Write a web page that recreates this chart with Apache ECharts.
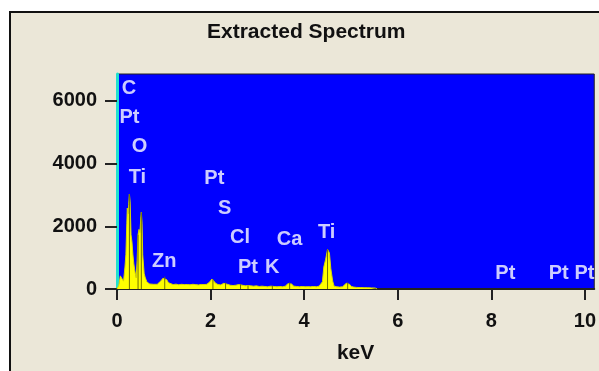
<!DOCTYPE html>
<html>
<head>
<meta charset="utf-8">
<script src="https://cdn.jsdelivr.net/npm/echarts@6/dist/echarts.min.js"></script>
<style>
html,body{margin:0;padding:0;background:#ffffff;}
#chart{width:599px;height:371px;}
</style>
</head>
<body>
<div id="chart"></div>
<script>
// Spectrum (keV, counts)
var energy = [0.00,0.04,0.07,0.09,0.11,0.14,0.17,0.19,0.21,0.22,0.24,0.25,0.265,0.28,0.30,0.32,0.34,0.36,0.38,0.40,0.41,0.43,0.45,0.47,0.49,0.51,0.52,0.535,0.55,0.57,0.58,0.60,0.62,0.64,0.66,0.70,0.74,0.78,0.82,0.86,0.90,0.94,0.98,1.02,1.06,1.10,1.14,1.20,1.26,1.32,1.38,1.44,1.50,1.56,1.62,1.68,1.74,1.80,1.86,1.92,1.98,2.03,2.07,2.11,2.16,2.22,2.28,2.32,2.36,2.42,2.48,2.54,2.60,2.64,2.68,2.74,2.80,2.86,2.92,2.98,3.04,3.10,3.16,3.22,3.28,3.32,3.36,3.42,3.48,3.54,3.60,3.65,3.69,3.73,3.78,3.84,3.90,3.96,4.02,4.08,4.14,4.20,4.26,4.32,4.36,4.39,4.42,4.46,4.50,4.54,4.57,4.61,4.64,4.70,4.76,4.82,4.86,4.90,4.93,4.97,5.01,5.06,5.12,5.20,5.28,5.36,5.44,5.52,5.56];
var counts = [0,120,420,480,400,250,700,1100,2100,2580,2400,2700,3030,2800,1730,1500,1090,800,600,420,350,900,1730,1900,1800,2300,2450,2100,1090,700,500,380,300,220,180,160,170,150,160,150,190,260,340,390,300,200,150,140,155,135,150,140,145,135,150,140,130,145,140,150,220,320,290,180,140,130,180,200,150,120,110,120,140,150,120,100,110,100,90,100,80,90,80,70,90,100,80,70,80,70,90,170,210,160,90,80,70,80,70,75,70,80,70,90,150,230,700,950,1265,1150,650,250,90,70,60,70,100,180,210,150,80,60,50,45,40,40,35,30,0];

// Element line positions drawn inside the peaks
var lineEnergy = [0.265,0.45,0.52,1.02,2.05,2.32,2.64,2.80,3.32,3.69,4.50,4.93];
var lineHeight = [3030,1730,2450,390,310,200,150,110,100,210,1265,210];

// Element labels (name, keV, label height in counts)
var elemName   = ["C","Pt","O","Ti","Pt","S","Cl","Ca","Ti","Zn","Pt","K","Pt","Pt","Pt"];
var elemEnergy = [0.255,0.265,0.48,0.435,2.08,2.30,2.63,3.69,4.48,1.01,2.80,3.32,8.30,9.44,9.99];
var elemLevel  = [6383,5458,4532,3559,3511,2569,1628,1564,1819,862,686,686,511,511,511];

var xTicks = [0,2,4,6,8,10];
var yTicks = [0,2000,4000,6000];
var titleText = "Extracted Spectrum";
var xName = "keV";

var FONT = '"Liberation Sans",Arial,sans-serif';

var chart = echarts.init(document.getElementById('chart'), null, {renderer:'canvas'});

var spec = energy.map(function(e,i){return [e, counts[i]];});
var lines = lineEnergy.map(function(e,i){return [e, lineHeight[i]];});
var elems = elemEnergy.map(function(e,i){return {value:[e, elemLevel[i]], name: elemName[i]};});

chart.setOption({
  animation:false,
  backgroundColor:'#ffffff',
  graphic:[{
    type:'rect', z:-10, silent:true,
    shape:{x:10, y:12, width:640, height:420},
    style:{fill:'#ebe7d8', stroke:'#111111', lineWidth:2}
  }],
  title:{
    text:titleText, left:202, top:17,
    textStyle:{fontFamily:FONT, fontSize:21, fontWeight:'bold', color:'#111111'}
  },
  grid:{
    left:117, top:74, right:1, bottom:82,
    show:true, backgroundColor:'#0000ff', borderColor:'#222222', borderWidth:1
  },
  xAxis:{
    type:'value', min:0, max:10.2,
    name:xName, nameLocation:'middle', nameGap:54,
    nameTextStyle:{fontFamily:FONT, fontSize:21, fontWeight:'bold', color:'#111111'},
    axisLine:{show:true, onZero:false, lineStyle:{color:'#222222', width:2}},
    axisTick:{show:true, length:11, customValues:xTicks, lineStyle:{color:'#222222', width:2}},
    axisLabel:{margin:22, customValues:xTicks, fontFamily:FONT, fontSize:20, fontWeight:'bold', color:'#111111',
               formatter:function(v){return String(v);}},
    splitLine:{show:false}
  },
  yAxis:{
    type:'value', min:0, max:6860,
    axisLine:{show:true, lineStyle:{color:'#20e0d0', width:3}},
    axisTick:{show:true, length:12, customValues:yTicks, lineStyle:{color:'#222222', width:2}},
    axisLabel:{margin:20, customValues:yTicks, fontFamily:FONT, fontSize:20, fontWeight:'bold', color:'#111111',
               formatter:function(v){return String(v);}},
    splitLine:{show:false}
  },
  series:[
    {
      type:'line', data:spec, symbol:'none', smooth:false,
      lineStyle:{color:'#d8d800', width:1},
      areaStyle:{color:'#ffff00', opacity:1},
      z:2
    },
    {
      type:'bar', data:lines, barWidth:1,
      itemStyle:{color:'#707000'},
      z:3
    },
    {
      type:'scatter', data:elems, symbolSize:1,
      itemStyle:{color:'rgba(0,0,0,0)'},
      label:{show:true, position:'inside', formatter:'{b}', color:'#ffffff',
             fontFamily:FONT, fontSize:20, fontWeight:'bold'},
      z:4
    }
  ]
});
</script>
</body>
</html>
